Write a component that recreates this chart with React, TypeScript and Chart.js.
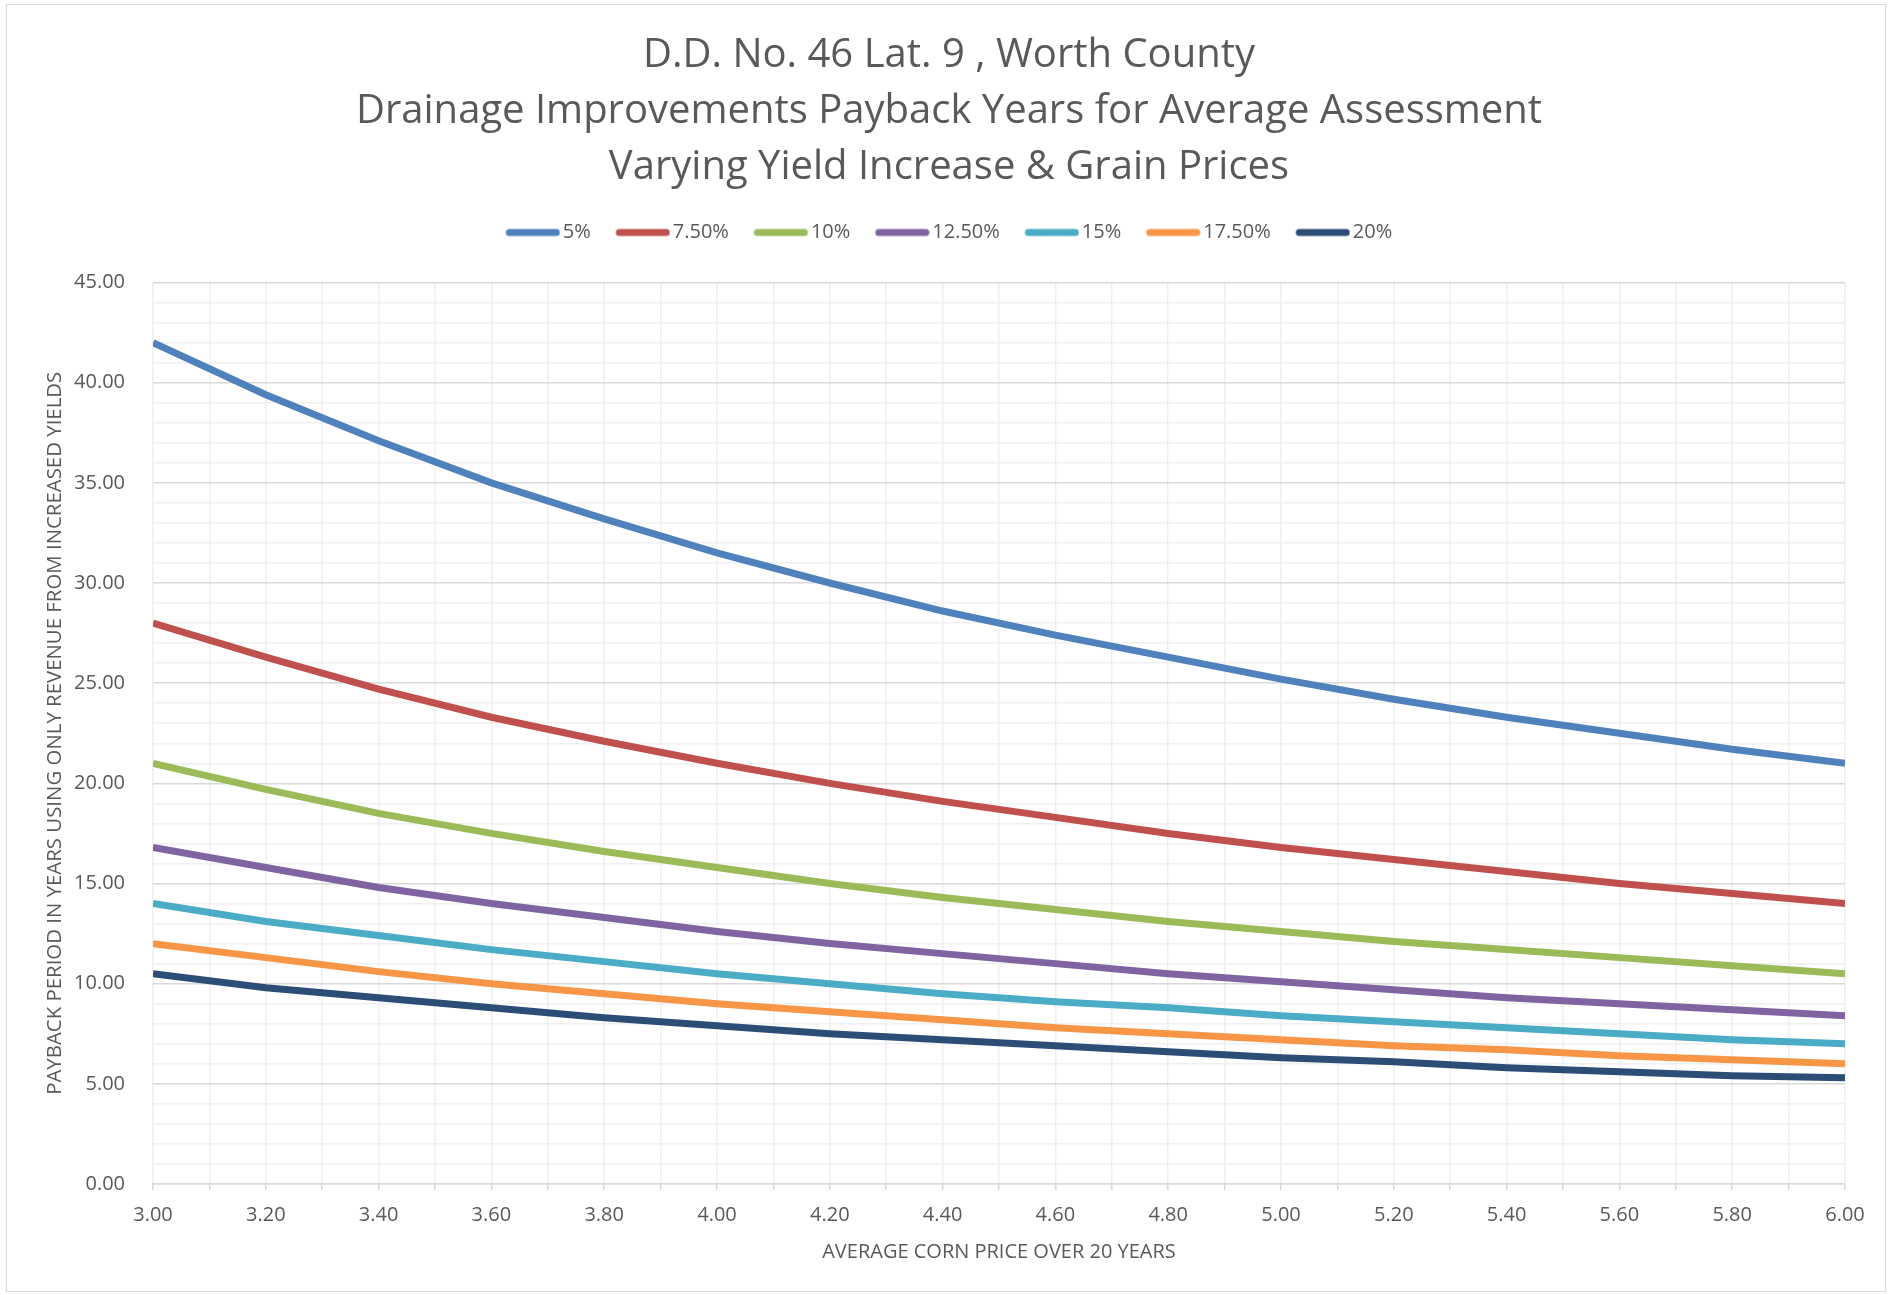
import React, { useEffect, useRef } from "react";
import { Chart, registerables } from "chart.js";

Chart.register(...registerables);

const prices = [3.0, 3.2, 3.4, 3.6, 3.8, 4.0, 4.2, 4.4, 4.6, 4.8, 5.0, 5.2, 5.4, 5.6, 5.8, 6.0];

const seriesNames = ["5%", "7.50%", "10%", "12.50%", "15%", "17.50%", "20%"];
const seriesColors = ["#4f81bd", "#c0504d", "#9bbb59", "#8064a2", "#4bacc6", "#f79646", "#2c4d75"];

const y5 = [42.0, 39.4, 37.1, 35.0, 33.2, 31.5, 30.0, 28.6, 27.4, 26.3, 25.2, 24.2, 23.3, 22.5, 21.7, 21.0];
const y75 = [28.0, 26.3, 24.7, 23.3, 22.1, 21.0, 20.0, 19.1, 18.3, 17.5, 16.8, 16.2, 15.6, 15.0, 14.5, 14.0];
const y10 = [21.0, 19.7, 18.5, 17.5, 16.6, 15.8, 15.0, 14.3, 13.7, 13.1, 12.6, 12.1, 11.7, 11.3, 10.9, 10.5];
const y125 = [16.8, 15.8, 14.8, 14.0, 13.3, 12.6, 12.0, 11.5, 11.0, 10.5, 10.1, 9.7, 9.3, 9.0, 8.7, 8.4];
const y15 = [14.0, 13.1, 12.4, 11.7, 11.1, 10.5, 10.0, 9.5, 9.1, 8.8, 8.4, 8.1, 7.8, 7.5, 7.2, 7.0];
const y175 = [12.0, 11.3, 10.6, 10.0, 9.5, 9.0, 8.6, 8.2, 7.8, 7.5, 7.2, 6.9, 6.7, 6.4, 6.2, 6.0];
const y20 = [10.5, 9.8, 9.3, 8.8, 8.3, 7.9, 7.5, 7.2, 6.9, 6.6, 6.3, 6.1, 5.8, 5.6, 5.4, 5.3];

const seriesValues = [y5, y75, y10, y125, y15, y175, y20];

const titleLines = [
  "D.D. No. 46 Lat. 9 , Worth County",
  "Drainage Improvements Payback Years for Average Assessment",
  "Varying Yield Increase & Grain Prices",
];
const xTitle = "AVERAGE CORN PRICE OVER 20 YEARS";
const yTitle = "PAYBACK PERIOD IN YEARS USING ONLY REVENUE FROM INCREASED YIELDS";

const FONT = "'Open Sans', sans-serif";
const TEXT = "#595959";

function legendSwatch(color: string): HTMLCanvasElement {
  const c = document.createElement("canvas");
  c.width = 62;
  c.height = 10;
  const g = c.getContext("2d")!;
  g.strokeStyle = color;
  g.lineWidth = 7;
  g.lineCap = "round";
  g.beginPath();
  g.moveTo(11, 5);
  g.lineTo(58, 5);
  g.stroke();
  return c;
}

export default function App() {
  const ref = useRef<HTMLCanvasElement | null>(null);

  useEffect(() => {
    if (!ref.current) return;
    const swatches = seriesColors.map(legendSwatch);
    const chart = new Chart(ref.current, {
      type: "line",
      data: {
        datasets: seriesNames.map((name, i) => ({
          label: name,
          data: prices.map((p, j) => ({ x: p, y: seriesValues[i][j] })),
          borderColor: seriesColors[i],
          backgroundColor: seriesColors[i],
          borderWidth: 7,
          pointRadius: 0,
          pointHoverRadius: 0,
          pointStyle: swatches[i],
          tension: 0,
          fill: false,
          yAxisID: "y",
        })),
      },
      options: {
        animation: false,
        responsive: true,
        maintainAspectRatio: false,
        layout: { padding: { top: 0, left: 7, right: 0, bottom: 0 } },
        plugins: {
          tooltip: { enabled: false },
          title: {
            display: true,
            text: titleLines,
            color: TEXT,
            font: { family: FONT, size: 40, weight: "normal", lineHeight: 56 / 40 },
            padding: { top: 28, bottom: 1.5 },
          },
          legend: {
            display: true,
            position: "top",
            labels: {
              color: TEXT,
              font: { family: FONT, size: 20 },
              usePointStyle: true,
              pointStyleWidth: 47,
              boxHeight: 20,
              padding: 25,
              generateLabels: (c: any) => {
                const items = Chart.defaults.plugins.legend.labels.generateLabels(c);
                return items.map((it: any, i: number) => ({ ...it, pointStyle: swatches[i] }));
              },
            },
          },
          subtitle: {
            display: true,
            text: " ",
            weight: 500,
            font: { size: 1, lineHeight: 1 },
            padding: { top: 0, bottom: 29 },
          } as any,
        },
        scales: {
          x: {
            type: "linear",
            min: 3,
            max: 6,
            afterFit: (s: any) => {
              s.height = 111;
            },
            ticks: {
              stepSize: 0.1,
              autoSkip: false,
              maxRotation: 0,
              color: TEXT,
              font: { family: FONT, size: 20 },
              padding: 13,
              callback: (v: any) => {
                const n = Math.round(Number(v) * 10);
                return n % 2 === 0 ? (n / 10).toFixed(2) : "";
              },
            },
            grid: {
              color: "#efefef",
              lineWidth: 1.5,
              drawTicks: true,
              tickLength: 6,
              tickColor: "#d9d9d9",
            },
            border: { display: true, color: "#d9d9d9", width: 1.5 },
            title: {
              display: true,
              text: xTitle,
              color: TEXT,
              font: { family: FONT, size: 20 },
              padding: { top: 0, bottom: 31 },
            },
          },
          y: {
            type: "linear",
            position: "left",
            min: 0,
            max: 45,
            afterFit: (s: any) => {
              s.width = 146;
            },
            ticks: {
              stepSize: 1,
              autoSkip: false,
              color: TEXT,
              font: { family: FONT, size: 20 },
              padding: 28,
              callback: (v: any) => {
                const n = Math.round(Number(v));
                return n % 5 === 0 ? n.toFixed(2) : "";
              },
            },
            grid: {
              color: (ctx: any) => {
                const v = Math.round(ctx.tick ? ctx.tick.value : 0);
                return v % 5 === 0 ? "#d9d9d9" : "#f0f0f0";
              },
              lineWidth: 1.5,
              drawTicks: false,
            },
            border: { display: false },
            title: {
              display: true,
              text: yTitle,
              color: TEXT,
              font: { family: FONT, size: 20.4 },
              padding: { top: 36, bottom: 0 },
            },
          },
          yRightSpace: {
            type: "linear",
            position: "right",
            display: true,
            min: 0,
            max: 1,
            afterFit: (s: any) => {
              s.width = 46;
            },
            ticks: { display: false },
            grid: { display: false, drawOnChartArea: false, drawTicks: false },
            border: { display: false },
            title: { display: false },
          },
        },
      },
    } as any);
    return () => chart.destroy();
  }, []);

  return (
    <div style={{ position: "fixed", left: 0, top: 0, width: 1891, height: 1295, background: "#fff" }}>
      <div
        style={{
          position: "absolute",
          left: 6,
          top: 4,
          width: 1880,
          height: 1288,
          border: "1px solid #d9d9d9",
          boxSizing: "border-box",
        }}
      />
      <div style={{ position: "absolute", left: 0, top: 0, width: 1891, height: 1295 }}>
        <canvas ref={ref} />
      </div>
    </div>
  );
}
